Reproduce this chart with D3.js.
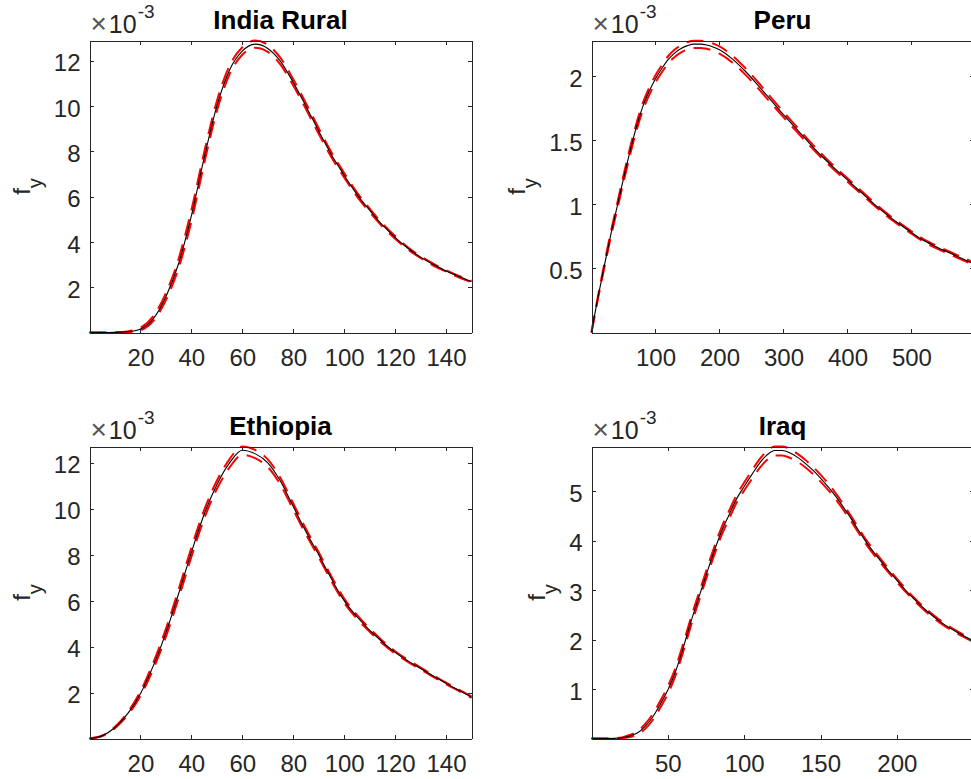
<!DOCTYPE html>
<html>
<head>
<meta charset="utf-8">
<script src="https://cdn.jsdelivr.net/npm/d3@7"></script>
<style>
  html, body { margin: 0; padding: 0; background: #ffffff; overflow: hidden; }
  svg { display: block; }
  text { font-family: "Liberation Sans", Arial, Helvetica, sans-serif; }
</style>
</head>
<body>
<svg id="chart" width="971" height="779"></svg>
<script>
// Density of y (values in units of 1e-3): fitted curve (black) and its band (red dashed)

const titles = ["India Rural", "Peru", "Ethiopia", "Iraq"];

// India Rural
const indiaX     = [0, 5, 10, 15, 20, 25, 30, 35, 40, 45, 50, 55, 60, 65, 70, 75, 80, 85, 90, 95, 100, 105, 110, 115, 120, 125, 130, 135, 140, 145, 150];
const indiaFit   = [0, 0, 0.005, 0.03, 0.15, 0.6, 1.58, 3.05, 5.15, 7.7, 10.0, 11.6, 12.43, 12.74, 12.55, 11.98, 11.05, 10.0, 8.9, 7.85, 6.95, 6.1, 5.4, 4.75, 4.2, 3.72, 3.33, 3.0, 2.72, 2.47, 2.25];
const indiaUpper = [0, 0, 0.008, 0.05, 0.21, 0.71, 1.74, 3.26, 5.4, 7.95, 10.22, 11.79, 12.6, 12.9, 12.71, 12.13, 11.19, 10.13, 9.02, 7.96, 7.05, 6.19, 5.48, 4.82, 4.26, 3.77, 3.37, 3.04, 2.75, 2.5, 2.28];
const indiaLower = [0, 0, 0.003, 0.015, 0.1, 0.5, 1.43, 2.85, 4.9, 7.45, 9.78, 11.41, 12.27, 12.58, 12.4, 11.83, 10.91, 9.87, 8.78, 7.74, 6.85, 6.01, 5.32, 4.68, 4.14, 3.67, 3.29, 2.96, 2.69, 2.44, 2.22];

// Peru
const peruX     = [0, 5, 10, 20, 30, 40, 50, 60, 70, 80, 90, 100, 110, 120, 130, 140, 150, 160, 170, 180, 190, 200, 220, 240, 260, 280, 300, 320, 340, 360, 380, 400, 420, 440, 460, 480, 500, 520, 540, 560, 580, 600];
const peruFit   = [0, 0.14, 0.27, 0.52, 0.76, 0.98, 1.2, 1.41, 1.6, 1.76, 1.88, 1.98, 2.06, 2.13, 2.18, 2.215, 2.238, 2.25, 2.25, 2.243, 2.228, 2.205, 2.135, 2.04, 1.93, 1.815, 1.7, 1.59, 1.48, 1.375, 1.28, 1.19, 1.1, 1.01, 0.925, 0.85, 0.78, 0.715, 0.665, 0.62, 0.575, 0.53];
const peruUpper = [0, 0.146, 0.28, 0.536, 0.78, 1.003, 1.225, 1.437, 1.627, 1.787, 1.907, 2.007, 2.087, 2.157, 2.207, 2.242, 2.265, 2.277, 2.277, 2.27, 2.255, 2.232, 2.161, 2.065, 1.954, 1.837, 1.72, 1.609, 1.497, 1.391, 1.294, 1.203, 1.112, 1.021, 0.935, 0.86, 0.79, 0.725, 0.675, 0.63, 0.585, 0.54];
const peruLower = [0, 0.134, 0.26, 0.504, 0.74, 0.956, 1.173, 1.38, 1.57, 1.73, 1.85, 1.95, 2.03, 2.1, 2.15, 2.185, 2.208, 2.22, 2.22, 2.213, 2.198, 2.175, 2.107, 2.014, 1.906, 1.793, 1.68, 1.571, 1.463, 1.359, 1.266, 1.177, 1.088, 0.999, 0.915, 0.84, 0.77, 0.705, 0.655, 0.61, 0.565, 0.52];

// Ethiopia
const ethX     = [0, 5, 10, 15, 20, 25, 30, 35, 40, 45, 50, 55, 60, 65, 70, 75, 80, 85, 90, 95, 100, 105, 110, 115, 120, 125, 130, 135, 140, 145, 150];
const ethFit   = [0, 0.12, 0.48, 1.08, 1.95, 3.15, 4.6, 6.3, 8.1, 9.75, 11.05, 12.0, 12.55, 12.4, 12.0, 11.2, 10.1, 9.0, 8.0, 6.95, 6.0, 5.3, 4.72, 4.2, 3.75, 3.38, 3.05, 2.72, 2.4, 2.1, 1.8];
const ethUpper = [0, 0.13, 0.51, 1.14, 2.05, 3.29, 4.77, 6.49, 8.3, 9.94, 11.22, 12.16, 12.71, 12.56, 12.15, 11.34, 10.23, 9.12, 8.11, 7.05, 6.09, 5.38, 4.79, 4.26, 3.8, 3.425, 3.09, 2.755, 2.43, 2.13, 1.83];
const ethLower = [0, 0.11, 0.45, 1.02, 1.85, 3.01, 4.43, 6.11, 7.9, 9.56, 10.86, 11.8, 12.35, 12.2, 11.82, 11.04, 9.96, 8.88, 7.89, 6.85, 5.91, 5.22, 4.65, 4.14, 3.7, 3.335, 3.01, 2.685, 2.37, 2.07, 1.77];

// Iraq
const iraqX     = [0, 5, 10, 15, 20, 25, 30, 35, 40, 45, 50, 55, 60, 65, 70, 75, 80, 85, 90, 95, 100, 105, 110, 115, 120, 125, 130, 135, 140, 145, 150, 160, 170, 180, 190, 200, 210, 220, 230, 240, 250];
const iraqFit   = [0, 0, 0, 0.003, 0.015, 0.05, 0.11, 0.24, 0.43, 0.69, 0.98, 1.35, 1.83, 2.35, 2.83, 3.3, 3.76, 4.18, 4.52, 4.85, 5.1, 5.34, 5.57, 5.74, 5.83, 5.83, 5.78, 5.69, 5.57, 5.43, 5.27, 4.9, 4.45, 3.97, 3.57, 3.2, 2.86, 2.57, 2.33, 2.14, 1.98];
const iraqUpper = [0, 0, 0, 0.005, 0.023, 0.07, 0.145, 0.29, 0.49, 0.76, 1.055, 1.43, 1.91, 2.43, 2.91, 3.38, 3.84, 4.26, 4.6, 4.93, 5.18, 5.42, 5.65, 5.82, 5.91, 5.91, 5.86, 5.76, 5.64, 5.5, 5.34, 4.96, 4.5, 4.015, 3.61, 3.235, 2.89, 2.598, 2.355, 2.162, 2.0];
const iraqLower = [0, 0, 0, 0.001, 0.007, 0.03, 0.075, 0.19, 0.37, 0.62, 0.905, 1.27, 1.75, 2.27, 2.75, 3.22, 3.68, 4.1, 4.44, 4.77, 5.02, 5.25, 5.47, 5.64, 5.73, 5.73, 5.68, 5.6, 5.49, 5.355, 5.2, 4.84, 4.4, 3.925, 3.53, 3.165, 2.83, 2.542, 2.305, 2.118, 1.96];

// Axis limits and tick labels
const indiaXDomain = [0, 150],   indiaYDomain = [0, 12.9];
const peruXDomain  = [0, 597],   peruYDomain  = [0, 2.278];
const ethXDomain   = [0, 150],   ethYDomain   = [0, 12.71];
const iraqXDomain  = [0, 250.2], iraqYDomain  = [0, 5.91];

const indiaXTicks = [20, 40, 60, 80, 100, 120, 140];
const indiaYTicks = [2, 4, 6, 8, 10, 12];
const peruXTicks  = [100, 200, 300, 400, 500];
const peruYTicks  = [0.5, 1, 1.5, 2];
const ethXTicks   = [20, 40, 60, 80, 100, 120, 140];
const ethYTicks   = [2, 4, 6, 8, 10, 12];
const iraqXTicks  = [50, 100, 150, 200];
const iraqYTicks  = [1, 2, 3, 4, 5];

const panels = [
  { title: titles[0], x: indiaX, fit: indiaFit, hi: indiaUpper, lo: indiaLower, xd: indiaXDomain, yd: indiaYDomain, xt: indiaXTicks, yt: indiaYTicks },
  { title: titles[1], x: peruX,  fit: peruFit,  hi: peruUpper,  lo: peruLower,  xd: peruXDomain,  yd: peruYDomain,  xt: peruXTicks,  yt: peruYTicks },
  { title: titles[2], x: ethX,   fit: ethFit,   hi: ethUpper,   lo: ethLower,   xd: ethXDomain,   yd: ethYDomain,   xt: ethXTicks,   yt: ethYTicks },
  { title: titles[3], x: iraqX,  fit: iraqFit,  hi: iraqUpper,  lo: iraqLower,  xd: iraqXDomain,  yd: iraqYDomain,  xt: iraqXTicks,  yt: iraqYTicks }
];

// Subplot geometry (2 x 2 grid)
const plotW = 382, plotH = 292;
const lefts = [89.5, 591.5], tops = [40.5, 446.5];

const axisColor = "#262626";
const tickFont = 24;

const svg = d3.select("#chart");

panels.forEach((p, i) => {
  const left = lefts[i % 2], top = tops[Math.floor(i / 2)];
  const right = left + plotW, bottom = top + plotH;

  const x = d3.scaleLinear().domain(p.xd).range([left, right]);
  const y = d3.scaleLinear().domain(p.yd).range([bottom, top]);

  const g = svg.append("g").attr("class", "panel");

  const clipId = "clip" + i;
  g.append("clipPath").attr("id", clipId)
    .append("rect")
    .attr("x", left - 1.5).attr("y", top - 1.5)
    .attr("width", plotW + 3).attr("height", plotH + 3);

  // curves
  const line = (vals) => d3.line()
    .x((d, k) => x(p.x[k]))
    .y(d => y(d))
    .curve(d3.curveMonotoneX)(vals);

  const curves = g.append("g").attr("clip-path", `url(#${clipId})`);
  [p.hi, p.lo].forEach(vals => {
    curves.append("path")
      .attr("d", line(vals))
      .attr("fill", "none")
      .attr("stroke", "#ff0000")
      .attr("stroke-width", 2)
      .attr("stroke-dasharray", "17,9");
  });
  curves.append("path")
    .attr("d", line(p.fit))
    .attr("fill", "none")
    .attr("stroke", "#000000")
    .attr("stroke-width", 1.1);

  // axes: ticks point inward, box on all four sides
  const styleAxis = sel => {
    sel.selectAll("path.domain").attr("stroke", axisColor).attr("stroke-width", 1)
      .attr("shape-rendering", "crispEdges");
    sel.selectAll(".tick line").attr("stroke", axisColor).attr("stroke-width", 1)
      .attr("shape-rendering", "crispEdges");
    sel.selectAll(".tick text")
      .attr("fill", axisColor)
      .style("font-size", tickFont + "px")
      .style("font-family", '"Liberation Sans", Arial, Helvetica, sans-serif');
  };

  const gx = g.append("g").attr("transform", `translate(0,${bottom})`)
    .call(d3.axisBottom(x).tickValues(p.xt).tickSizeInner(-4).tickSizeOuter(0).tickPadding(16.3)
      .tickFormat(d3.format("")));
  styleAxis(gx);

  const gxt = g.append("g").attr("transform", `translate(0,${top})`)
    .call(d3.axisTop(x).tickValues(p.xt).tickSizeInner(-4).tickSizeOuter(0).tickFormat(""));
  styleAxis(gxt);

  const gy = g.append("g").attr("transform", `translate(${left},0)`)
    .call(d3.axisLeft(y).tickValues(p.yt).tickSizeInner(-4).tickSizeOuter(0).tickPadding(9)
      .tickFormat(d3.format("")));
  styleAxis(gy);
  gy.selectAll(".tick text").attr("dy", "0.42em");

  const gyr = g.append("g").attr("transform", `translate(${right},0)`)
    .call(d3.axisRight(y).tickValues(p.yt).tickSizeInner(-4).tickSizeOuter(0).tickFormat(""));
  styleAxis(gyr);

  // title
  g.append("text")
    .attr("x", (left + right) / 2)
    .attr("y", top - 11.4)
    .attr("text-anchor", "middle")
    .attr("fill", "#000000")
    .style("font-size", "26px")
    .style("font-weight", "bold")
    .text(p.title);

  // exponent label  ×10^-3
  const ex = g.append("text")
    .attr("x", left + 1)
    .attr("y", top - 7.4)
    .attr("fill", axisColor)
    .style("font-size", "25px");
  ex.append("tspan").style("font-size", "28px").attr("fill", "#555555").text("\u00d7");
  ex.append("tspan").attr("dx", 2).text("10");
  ex.append("tspan").attr("dy", -15).attr("dx", 1).style("font-size", "19px").text("-3");

  // y label  f_y, placed just left of the widest tick label
  let minX = Infinity;
  gy.selectAll(".tick text").each(function () {
    const b = this.getBBox();
    const ctm = this.getCTM();
    minX = Math.min(minX, b.x + ctm.e);
  });
  const labelX = minX - 24;
  const labelY = (top + bottom) / 2;
  const yl = g.append("text")
    .attr("transform", `translate(${labelX},${labelY}) rotate(-90)`)
    .attr("text-anchor", "middle")
    .attr("fill", axisColor)
    .style("font-size", "24px");
  yl.append("tspan").text("f");
  yl.append("tspan").attr("dy", 12).style("font-size", "20px").text("y");
});
</script>
</body>
</html>
